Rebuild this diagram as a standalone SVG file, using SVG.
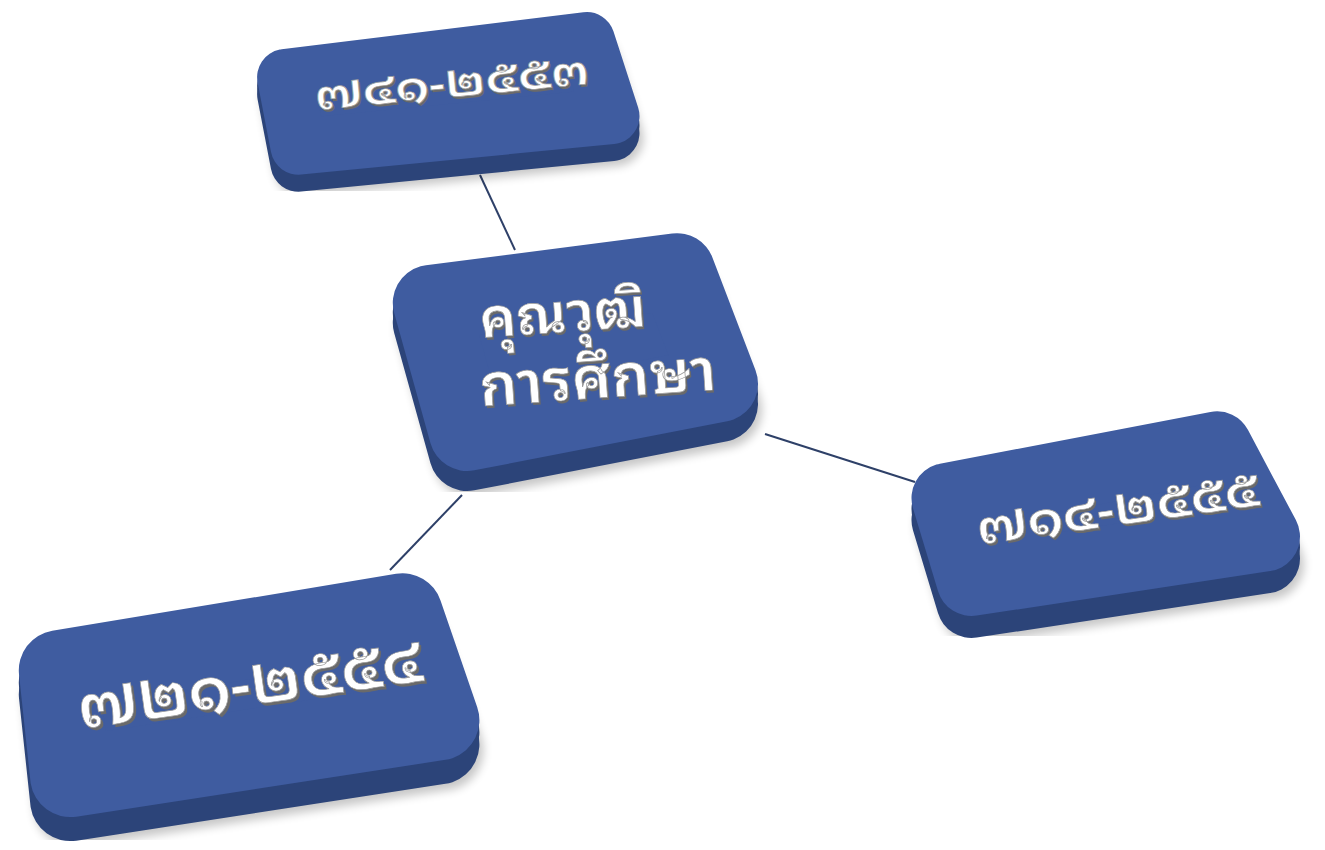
<svg xmlns="http://www.w3.org/2000/svg" xmlns:xlink="http://www.w3.org/1999/xlink" width="1325" height="850" viewBox="0 0 1325 850">
<defs>
<style>
.face{fill:#3F5CA0;stroke:#3F5CA0;stroke-linejoin:round}
.rim{fill:none;stroke:#36528F;stroke-linejoin:round;opacity:.6;filter:url(#soft)}
.side{fill:#2C4479;stroke:#2C4479;stroke-linejoin:round}
.sh{fill:#000;stroke:#000;stroke-linejoin:round;opacity:.22;filter:url(#blur)}
.lbl{font-family:'Noto Sans Thai Looped','Noto Sans Thai','Noto Sans','DejaVu Sans',sans-serif;font-weight:600;text-anchor:middle}
.tx{fill:#fff;stroke:#9a9a9a;stroke-width:0.7}
.tsh{fill:#6a6a6a}
.conn{stroke:#2E4068;stroke-width:2;fill:none}
</style>
<filter id="blur" x="-20%" y="-20%" width="140%" height="140%"><feGaussianBlur stdDeviation="5"/></filter>
<filter id="soft" x="-10%" y="-10%" width="120%" height="120%"><feGaussianBlur stdDeviation="2"/></filter>
<polygon id="p1" points="285.1,77.1 586.8,40 611.5,116.1 298.5,146.7" stroke-width="56"/>
<polygon id="p2" points="430.8,302.9 677,271.2 720,383.9 467.1,433" stroke-width="76"/>
<polygon id="p3" points="946.5,498.1 1217,446.3 1265,536.5 971.5,581" stroke-width="70"/>
<polygon id="p4" points="58.8,670.3 402.6,613.3 439.4,720.3 70.2,777.1" stroke-width="80"/>
</defs>
<g id="connectors">
<line class="conn" x1="480" y1="175" x2="515" y2="250"/>
<line class="conn" x1="765" y1="434" x2="915" y2="482"/>
<line class="conn" x1="462" y1="495" x2="390" y2="570"/>
</g>
<g id="node-top">
<use xlink:href="#p1" class="sh" transform="translate(4,22)"/>
<use xlink:href="#p1" class="side" transform="translate(0,9)"/>
<use xlink:href="#p1" class="side" transform="translate(0,17)"/>
<use xlink:href="#p1" class="face"/>
<g transform="translate(452,85) rotate(-5.5)">
<text class="lbl tsh" x="1.5" y="14.5" font-size="42" textLength="276" lengthAdjust="spacingAndGlyphs">๗๔๑-๒๕๕๓</text>
<text class="lbl tx" x="0" y="12" font-size="42" textLength="276" lengthAdjust="spacingAndGlyphs">๗๔๑-๒๕๕๓</text>
</g>
</g>
<g id="node-center">
<use xlink:href="#p2" class="sh" transform="translate(4,26)"/>
<use xlink:href="#p2" class="side" transform="translate(0,10)"/>
<use xlink:href="#p2" class="side" transform="translate(0,20)"/>
<use xlink:href="#p2" class="face"/>
<g transform="translate(563,318) rotate(-4)">
<text class="lbl tsh" x="1.5" y="16.5" font-size="54" textLength="167" lengthAdjust="spacingAndGlyphs">คุณวุฒิ</text>
<text class="lbl tx" x="0" y="14" font-size="54" textLength="167" lengthAdjust="spacingAndGlyphs">คุณวุฒิ</text>
</g>
<g transform="translate(598,383) rotate(-4)">
<text class="lbl tsh" x="1.5" y="17.5" font-size="58" textLength="237" lengthAdjust="spacingAndGlyphs">การศึกษา</text>
<text class="lbl tx" x="0" y="15" font-size="58" textLength="237" lengthAdjust="spacingAndGlyphs">การศึกษา</text>
</g>
</g>
<g id="node-right">
<use xlink:href="#p3" class="sh" transform="translate(4,28)"/>
<use xlink:href="#p3" class="side" transform="translate(0,11)"/>
<use xlink:href="#p3" class="side" transform="translate(0,22)"/>
<use xlink:href="#p3" class="face"/>
<g transform="translate(1118,511) rotate(-8)">
<text class="lbl tsh" x="1.5" y="16.5" font-size="48" textLength="285" lengthAdjust="spacingAndGlyphs">๗๑๔-๒๕๕๕</text>
<text class="lbl tx" x="0" y="14" font-size="48" textLength="285" lengthAdjust="spacingAndGlyphs">๗๑๔-๒๕๕๕</text>
</g>
</g>
<g id="node-bottom-left">
<use xlink:href="#p4" class="sh" transform="translate(4,30)"/>
<use xlink:href="#p4" class="side" transform="translate(0,12)"/>
<use xlink:href="#p4" class="side" transform="translate(0,24)"/>
<use xlink:href="#p4" class="face"/>
<g transform="translate(250,686) rotate(-8)">
<text class="lbl tsh" x="2" y="22" font-size="62" textLength="348" lengthAdjust="spacingAndGlyphs">๗๒๑-๒๕๕๔</text>
<text class="lbl tx" x="0" y="19" font-size="62" textLength="348" lengthAdjust="spacingAndGlyphs">๗๒๑-๒๕๕๔</text>
</g>
</g>
</svg>
